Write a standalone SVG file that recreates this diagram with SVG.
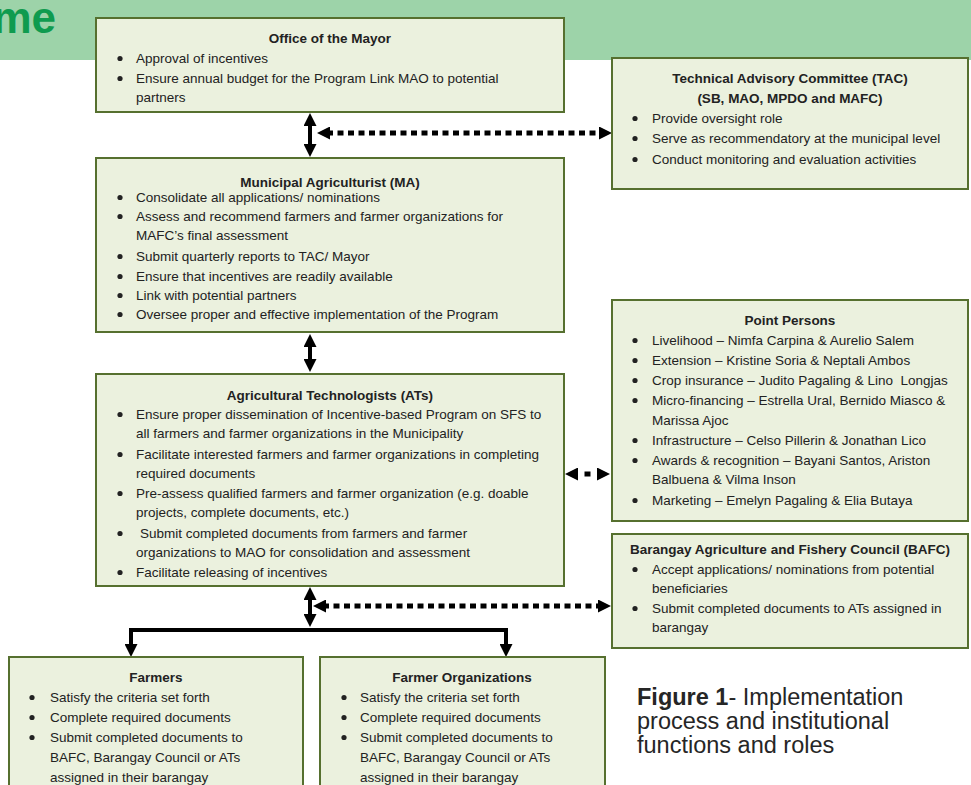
<svg xmlns="http://www.w3.org/2000/svg" width="971" height="785" viewBox="0 0 971 785">
<style>
.box{fill:#ebf1de;stroke:#56702f;stroke-width:2}
.t{font-family:"Liberation Sans",Arial,sans-serif;font-size:13.5px;fill:#222}
.h{font-weight:bold;text-anchor:middle}
.bl{fill:#222}
.solid{stroke:#000;stroke-width:4;fill:none}
.dot{stroke:#000;stroke-width:5;stroke-dasharray:6 4.5;fill:none}
.cap{font-family:"Liberation Sans",Arial,sans-serif;font-size:23.5px;fill:#262626}
</style>
<defs>
<marker id="ah" viewBox="0 0 13 13" refX="3" refY="6.5" markerWidth="13" markerHeight="13" markerUnits="userSpaceOnUse" orient="auto-start-reverse"><path d="M0,0 L13,6.5 L0,13 z" fill="#000"/></marker>
<circle id="b" r="2.6" class="bl"/>
</defs>
<rect x="0" y="0" width="971" height="60" fill="#9dd3a9"/>
<text x="56" y="33" text-anchor="end" font-family="Liberation Sans,Arial,sans-serif" font-size="44" font-weight="bold" fill="#0f9b4f">me</text>

<g id="connectors">
<line class="solid" x1="310" y1="123" x2="310" y2="147" marker-start="url(#ah)" marker-end="url(#ah)"/>
<line class="solid" x1="310" y1="344" x2="310" y2="362" marker-start="url(#ah)" marker-end="url(#ah)"/>
<line class="solid" x1="310" y1="597" x2="310" y2="617" marker-start="url(#ah)" marker-end="url(#ah)"/>
<path class="solid" d="M131,647 V630 H506 V647" marker-start="url(#ah)" marker-end="url(#ah)"/>
<line class="dot" x1="327" y1="133" x2="602" y2="133" marker-start="url(#ah)" marker-end="url(#ah)"/>
<line class="dot" x1="323" y1="606" x2="601" y2="606" marker-start="url(#ah)" marker-end="url(#ah)"/>
<line class="dot" style="stroke-dasharray:3 6.5 6 6.5 3 0" x1="575" y1="474" x2="600" y2="474" marker-start="url(#ah)" marker-end="url(#ah)"/>
</g>

<g id="mayor">
<rect class="box" x="96" y="18" width="468" height="94"/>
<text class="t h" x="330" y="43">Office of the Mayor</text>
<use href="#b" x="120" y="58.5"/><text class="t" x="136" y="63">Approval of incentives</text>
<use href="#b" x="120" y="78.5"/><text class="t" x="136" y="83">Ensure annual budget for the Program Link MAO to potential</text>
<text class="t" x="136" y="102">partners</text>
</g>

<g id="tac">
<rect class="box" x="612" y="58" width="356" height="131"/>
<text class="t h" x="790" y="83">Technical Advisory Committee (TAC)</text>
<text class="t h" x="790" y="103">(SB, MAO, MPDO and MAFC)</text>
<use href="#b" x="635" y="118.5"/><text class="t" x="652" y="123">Provide oversight role</text>
<use href="#b" x="635" y="138.5"/><text class="t" x="652" y="143">Serve as recommendatory at the municipal level</text>
<use href="#b" x="635" y="159.5"/><text class="t" x="652" y="164">Conduct monitoring and evaluation activities</text>
</g>

<g id="ma">
<rect class="box" x="96" y="158" width="468" height="174"/>
<text class="t h" x="330" y="187">Municipal Agriculturist (MA)</text>
<use href="#b" x="120" y="197.5"/><text class="t" x="136" y="202">Consolidate all applications/ nominations</text>
<use href="#b" x="120" y="216.5"/><text class="t" x="136" y="221">Assess and recommend farmers and farmer organizations for</text>
<text class="t" x="136" y="240">MAFC’s final assessment</text>
<use href="#b" x="120" y="256.5"/><text class="t" x="136" y="261">Submit quarterly reports to TAC/ Mayor</text>
<use href="#b" x="120" y="276.5"/><text class="t" x="136" y="281">Ensure that incentives are readily available</text>
<use href="#b" x="120" y="295.5"/><text class="t" x="136" y="300">Link with potential partners</text>
<use href="#b" x="120" y="314.5"/><text class="t" x="136" y="319">Oversee proper and effective implementation of the Program</text>
</g>

<g id="ats">
<rect class="box" x="96" y="374" width="468" height="212"/>
<text class="t h" x="330" y="400">Agricultural Technologists (ATs)</text>
<use href="#b" x="120" y="414.5"/><text class="t" x="136" y="419">Ensure proper dissemination of Incentive-based Program on SFS to</text>
<text class="t" x="136" y="438">all farmers and farmer organizations in the Municipality</text>
<use href="#b" x="120" y="454.5"/><text class="t" x="136" y="459">Facilitate interested farmers and farmer organizations in completing</text>
<text class="t" x="136" y="478">required documents</text>
<use href="#b" x="120" y="493.5"/><text class="t" x="136" y="498">Pre-assess qualified farmers and farmer organization (e.g. doable</text>
<text class="t" x="136" y="517">projects, complete documents, etc.)</text>
<use href="#b" x="120" y="533.5"/><text class="t" x="140" y="538">Submit completed documents from farmers and farmer</text>
<text class="t" x="136" y="557">organizations to MAO for consolidation and assessment</text>
<use href="#b" x="120" y="572.5"/><text class="t" x="136" y="577">Facilitate releasing of incentives</text>
</g>

<g id="pointpersons">
<rect class="box" x="612" y="300" width="356" height="221"/>
<text class="t h" x="790" y="325">Point Persons</text>
<use href="#b" x="635" y="340.5"/><text class="t" x="652" y="345">Livelihood – Nimfa Carpina &amp; Aurelio Salem</text>
<use href="#b" x="635" y="360.5"/><text class="t" x="652" y="365">Extension – Kristine Soria &amp; Neptali Ambos</text>
<use href="#b" x="635" y="380.5"/><text class="t" x="652" y="385" xml:space="preserve">Crop insurance – Judito Pagaling &amp; Lino  Longjas</text>
<use href="#b" x="635" y="400.5"/><text class="t" x="652" y="405">Micro-financing – Estrella Ural, Bernido Miasco &amp;</text>
<text class="t" x="652" y="425">Marissa Ajoc</text>
<use href="#b" x="635" y="440.5"/><text class="t" x="652" y="445">Infrastructure – Celso Pillerin &amp; Jonathan Lico</text>
<use href="#b" x="635" y="460.5"/><text class="t" x="652" y="465">Awards &amp; recognition – Bayani Santos, Ariston</text>
<text class="t" x="652" y="484">Balbuena &amp; Vilma Inson</text>
<use href="#b" x="635" y="500.5"/><text class="t" x="652" y="505">Marketing – Emelyn Pagaling &amp; Elia Butaya</text>
</g>

<g id="bafc">
<rect class="box" x="612" y="534" width="356" height="114"/>
<text class="t h" x="790" y="554">Barangay Agriculture and Fishery Council (BAFC)</text>
<use href="#b" x="635" y="569.5"/><text class="t" x="652" y="574">Accept applications/ nominations from potential</text>
<text class="t" x="652" y="593">beneficiaries</text>
<use href="#b" x="635" y="608.5"/><text class="t" x="652" y="613">Submit completed documents to ATs assigned in</text>
<text class="t" x="652" y="632">barangay</text>
</g>

<g id="farmers">
<rect class="box" x="9" y="657" width="294" height="140"/>
<text class="t h" x="156" y="682">Farmers</text>
<use href="#b" x="32" y="697.5"/><text class="t" x="50" y="702">Satisfy the criteria set forth</text>
<use href="#b" x="32" y="717.5"/><text class="t" x="50" y="722">Complete required documents</text>
<use href="#b" x="32" y="737.5"/><text class="t" x="50" y="742">Submit completed documents to</text>
<text class="t" x="50" y="762">BAFC, Barangay Council or ATs</text>
<text class="t" x="50" y="782">assigned in their barangay</text>
</g>

<g id="farmerorgs">
<rect class="box" x="320" y="657" width="285" height="140"/>
<text class="t h" x="462" y="682">Farmer Organizations</text>
<use href="#b" x="344" y="697.5"/><text class="t" x="360" y="702">Satisfy the criteria set forth</text>
<use href="#b" x="344" y="717.5"/><text class="t" x="360" y="722">Complete required documents</text>
<use href="#b" x="344" y="737.5"/><text class="t" x="360" y="742">Submit completed documents to</text>
<text class="t" x="360" y="762">BAFC, Barangay Council or ATs</text>
<text class="t" x="360" y="782">assigned in their barangay</text>
</g>

<g id="caption">
<text class="cap" x="637" y="705"><tspan font-weight="bold">Figure 1</tspan>- Implementation</text>
<text class="cap" x="637" y="729">process and institutional</text>
<text class="cap" x="637" y="753">functions and roles</text>
</g>
</svg>
